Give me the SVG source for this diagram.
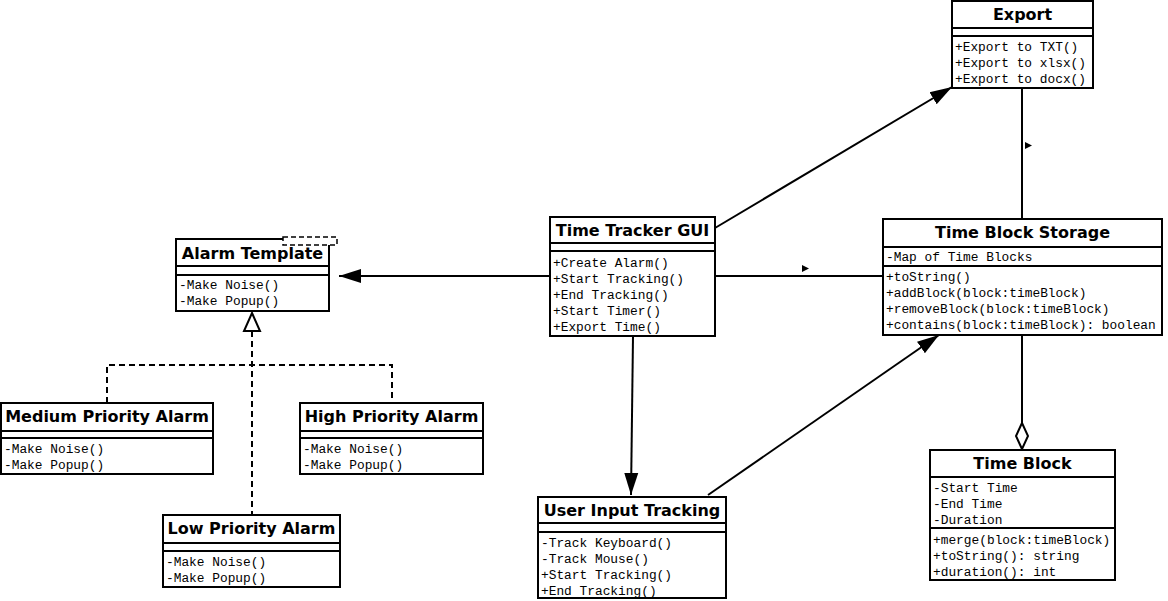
<svg xmlns="http://www.w3.org/2000/svg" width="1168" height="601" viewBox="0 0 1168 601">
<style>
.box{fill:#fff;stroke:#000;stroke-width:2}
.sep{stroke:#000;stroke-width:2}
.t{font-family:"DejaVu Sans",sans-serif;font-weight:bold;font-size:16px;text-anchor:middle;fill:#000}
.m{font-family:"Liberation Mono","Courier New",monospace;font-size:12.85px;fill:#000}
.ln{fill:none;stroke:#000;stroke-width:2}
.dash{fill:none;stroke:#000;stroke-width:2;stroke-dasharray:6,4}
</style>
<defs>
<marker id="arr" markerUnits="userSpaceOnUse" markerWidth="24" markerHeight="16" refX="22" refY="7" orient="auto" viewBox="0 0 24 14">
<path d="M0,0 L22,7 L0,14 Z" fill="#000"/>
</marker>
</defs>
<g id="connectors">
<line class="ln" x1="550" y1="276" x2="339" y2="276" marker-end="url(#arr)"/>
<line class="ln" x1="715" y1="228" x2="952" y2="87" marker-end="url(#arr)"/>
<line class="ln" x1="633" y1="336" x2="631" y2="495" marker-end="url(#arr)"/>
<line class="ln" x1="708" y1="495" x2="939" y2="335" marker-end="url(#arr)"/>
<line class="ln" x1="715" y1="276" x2="882" y2="276"/>
<path d="M802,265 L809,268.5 L802,272 Z" fill="#000"/>
<line class="ln" x1="1022" y1="88" x2="1022" y2="219"/>
<path d="M1025,142 L1032,145.5 L1025,149 Z" fill="#000"/>
<line class="ln" x1="1022" y1="335" x2="1022" y2="423"/>
<path d="M1022,423 L1028,436 L1022,449 L1016,436 Z" fill="#fff" stroke="#000" stroke-width="2"/>
<polyline class="dash" points="107,403 107,365 392,365 392,403"/>
<line class="dash" x1="252" y1="331" x2="252" y2="515"/>
<path d="M252,313 L260,331 L244,331 Z" fill="#fff" stroke="#000" stroke-width="2"/>
</g>
<g id="alarm-template">
<rect class="box" x="176" y="239" width="153" height="72"/>
<line class="sep" x1="176" y1="266" x2="329" y2="266"/>
<line class="sep" x1="176" y1="275" x2="329" y2="275"/>
<rect x="283" y="237" width="54" height="8" fill="#fff" stroke="#000" stroke-width="1.5" stroke-dasharray="5,3"/>
<text class="t" x="252.5" y="259">Alarm Template</text>
<text class="m" x="179" y="289">-Make Noise()</text>
<text class="m" x="179" y="305">-Make Popup()</text>
</g>
<g id="time-tracker-gui">
<rect class="box" x="550" y="217" width="165" height="119"/>
<line class="sep" x1="550" y1="243" x2="715" y2="243"/>
<line class="sep" x1="550" y1="251" x2="715" y2="251"/>
<text class="t" x="632.5" y="236">Time Tracker GUI</text>
<text class="m" x="553" y="267">+Create Alarm()</text>
<text class="m" x="553" y="283">+Start Tracking()</text>
<text class="m" x="553" y="299">+End Tracking()</text>
<text class="m" x="553" y="315">+Start Timer()</text>
<text class="m" x="553" y="331">+Export Time()</text>
</g>
<g id="time-block-storage">
<rect class="box" x="883" y="219" width="279" height="116"/>
<line class="sep" x1="883" y1="247" x2="1162" y2="247"/>
<line class="sep" x1="883" y1="266" x2="1162" y2="266"/>
<text class="t" x="1022.5" y="238">Time Block Storage</text>
<text class="m" x="886" y="261">-Map of Time Blocks</text>
<text class="m" x="886" y="281">+toString()</text>
<text class="m" x="886" y="297">+addBlock(block:timeBlock)</text>
<text class="m" x="886" y="313">+removeBlock(block:timeBlock)</text>
<text class="m" x="886" y="329">+contains(block:timeBlock): boolean</text>
</g>
<g id="export">
<rect class="box" x="952" y="1" width="141" height="87"/>
<line class="sep" x1="952" y1="28" x2="1093" y2="28"/>
<line class="sep" x1="952" y1="36" x2="1093" y2="36"/>
<text class="t" x="1022.5" y="20">Export</text>
<text class="m" x="955" y="51">+Export to TXT()</text>
<text class="m" x="955" y="67">+Export to xlsx()</text>
<text class="m" x="955" y="83">+Export to docx()</text>
</g>
<g id="time-block">
<rect class="box" x="930" y="450" width="185" height="130"/>
<line class="sep" x1="930" y1="477" x2="1115" y2="477"/>
<line class="sep" x1="930" y1="528" x2="1115" y2="528"/>
<text class="t" x="1022.5" y="469">Time Block</text>
<text class="m" x="933" y="492">-Start Time</text>
<text class="m" x="933" y="508">-End Time</text>
<text class="m" x="933" y="524">-Duration</text>
<text class="m" x="933" y="544">+merge(block:timeBlock)</text>
<text class="m" x="933" y="560">+toString(): string</text>
<text class="m" x="933" y="576">+duration(): int</text>
</g>
<g id="user-input-tracking">
<rect class="box" x="538" y="497" width="188" height="101"/>
<line class="sep" x1="538" y1="523" x2="726" y2="523"/>
<line class="sep" x1="538" y1="532" x2="726" y2="532"/>
<text class="t" x="632" y="516">User Input Tracking</text>
<text class="m" x="541" y="547">-Track Keyboard()</text>
<text class="m" x="541" y="563">-Track Mouse()</text>
<text class="m" x="541" y="579">+Start Tracking()</text>
<text class="m" x="541" y="595">+End Tracking()</text>
</g>
<g id="medium-priority-alarm">
<rect class="box" x="1" y="403" width="212" height="71"/>
<line class="sep" x1="1" y1="431" x2="213" y2="431"/>
<line class="sep" x1="1" y1="438" x2="213" y2="438"/>
<text class="t" x="107" y="422">Medium Priority Alarm</text>
<text class="m" x="4" y="453">-Make Noise()</text>
<text class="m" x="4" y="469">-Make Popup()</text>
</g>
<g id="high-priority-alarm">
<rect class="box" x="300" y="403" width="183" height="71"/>
<line class="sep" x1="300" y1="431" x2="483" y2="431"/>
<line class="sep" x1="300" y1="438" x2="483" y2="438"/>
<text class="t" x="391.5" y="422">High Priority Alarm</text>
<text class="m" x="303" y="453">-Make Noise()</text>
<text class="m" x="303" y="469">-Make Popup()</text>
</g>
<g id="low-priority-alarm">
<rect class="box" x="163" y="515" width="177" height="72"/>
<line class="sep" x1="163" y1="543" x2="340" y2="543"/>
<line class="sep" x1="163" y1="551" x2="340" y2="551"/>
<text class="t" x="251.5" y="534">Low Priority Alarm</text>
<text class="m" x="166" y="566">-Make Noise()</text>
<text class="m" x="166" y="582">-Make Popup()</text>
</g>
</svg>
